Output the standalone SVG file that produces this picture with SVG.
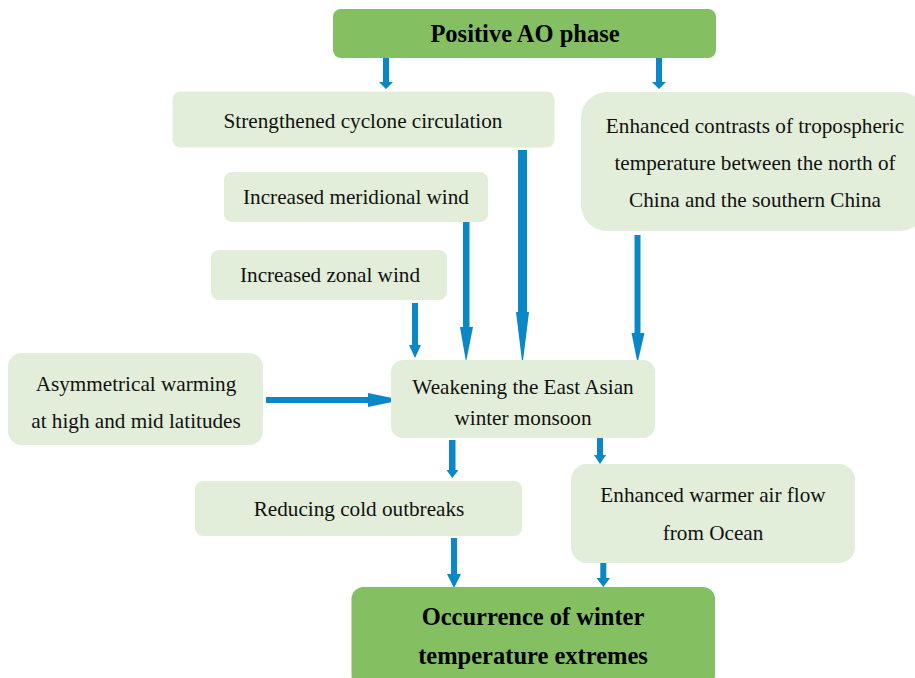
<svg xmlns="http://www.w3.org/2000/svg" width="915" height="678" viewBox="0 0 915 678">
<style>
.dark{fill:#84c062}
.light{fill:#e2eed9}
.t{font-family:"Liberation Serif","Times New Roman",serif;font-size:21.2px;fill:#111;text-anchor:middle}
.b{font-family:"Liberation Serif","Times New Roman",serif;font-size:24.5px;font-weight:bold;fill:#000;text-anchor:middle}
.arr{fill:#0a87c7}
</style>
<rect width="915" height="678" fill="#fff"/>
<g id="connectors">
<polygon class="arr" points="383,58 389,58 389,82 393,82 386,89 379,82 383,82"/>
<polygon class="arr" points="656,58 662,58 662,82 666,82 659,89 652,82 656,82"/>
<polygon class="arr" points="412,303 418,303 418,345 421,345 415,358 409,345 412,345"/>
<polygon class="arr" points="463,222 469.5,222 469.5,327 473,327 466,362 460,327 463,327"/>
<polygon class="arr" points="518,150 527,150 527,312 529,312 522.5,365 516,312 518,312"/>
<polygon class="arr" points="634.5,235 640.5,235 640.5,333 644.5,333 637.5,363 631.5,333 634.5,333"/>
<polygon class="arr" points="266,397 368,397 368,393 402,400 368,407 368,403 266,403"/>
<polygon class="arr" points="449,440 455.5,440 455.5,470 458.5,470 452.3,478 446.5,470 449,470"/>
<polygon class="arr" points="597,437 603,437 603,455 606,455 600,464 594,455 597,455"/>
<polygon class="arr" points="451,538 457,538 457,574 461,574 454,588 447,574 451,574"/>
<polygon class="arr" points="600.3,558 606.3,558 606.3,578 610,578 603.3,587 596.5,578 600.3,578"/>
</g>
<g id="n-positive">
<rect class="dark" x="333" y="9" width="383" height="49" rx="8"/>
<text class="b" x="525" y="42">Positive AO phase</text>
</g>
<g id="n-cyclone">
<rect class="light" x="172.5" y="91.5" width="382" height="56" rx="8"/>
<text class="t" x="363" y="128">Strengthened cyclone circulation</text>
</g>
<g id="n-contrast">
<rect class="light" x="581" y="92" width="345" height="139" rx="26"/>
<text class="t" x="755" y="133">Enhanced contrasts of tropospheric</text>
<text class="t" x="755" y="170">temperature between the north of</text>
<text class="t" x="755" y="207">China and the southern China</text>
</g>
<g id="n-meridional">
<rect class="light" x="224" y="172" width="264" height="50" rx="8"/>
<text class="t" x="356" y="204">Increased meridional wind</text>
</g>
<g id="n-zonal">
<rect class="light" x="211" y="250" width="236" height="50" rx="8"/>
<text class="t" x="330" y="282">Increased zonal wind</text>
</g>
<g id="n-asym">
<rect class="light" x="8" y="353" width="255" height="92" rx="14"/>
<text class="t" x="136" y="391">Asymmetrical warming</text>
<text class="t" x="136" y="428">at high and mid latitudes</text>
</g>
<g id="n-weakening">
<rect class="light" x="391" y="360" width="264" height="78" rx="12"/>
<text class="t" x="523" y="394">Weakening the East Asian</text>
<text class="t" x="523" y="425">winter monsoon</text>
</g>
<g id="n-reducing">
<rect class="light" x="195" y="481" width="327" height="55" rx="8"/>
<text class="t" x="359" y="516">Reducing cold outbreaks</text>
</g>
<g id="n-warmer">
<rect class="light" x="571" y="464" width="284" height="99" rx="16"/>
<text class="t" x="713" y="502">Enhanced warmer air flow</text>
<text class="t" x="713" y="540">from Ocean</text>
</g>
<g id="n-occurrence">
<rect class="dark" x="351.5" y="587" width="363.5" height="100" rx="12"/>
<text class="b" x="533" y="625">Occurrence of winter</text>
<text class="b" x="533" y="664">temperature extremes</text>
</g>
</svg>
